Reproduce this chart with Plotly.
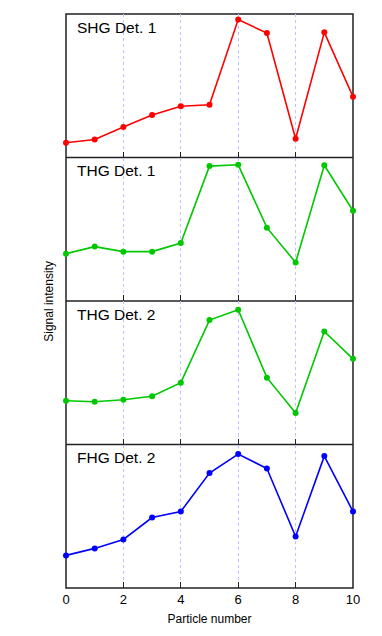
import plotly.graph_objects as go
from plotly.subplots import make_subplots

# particle index on x, normalised signal per detector channel
particles = [0, 1, 2, 3, 4, 5, 6, 7, 8, 9, 10]
shg_det1 = [0.103, 0.126, 0.212, 0.296, 0.357, 0.368, 0.961, 0.867, 0.131, 0.872, 0.424]
thg_det1 = [0.330, 0.379, 0.344, 0.344, 0.404, 0.940, 0.949, 0.511, 0.269, 0.946, 0.629]
thg_det2 = [0.305, 0.298, 0.312, 0.336, 0.431, 0.867, 0.939, 0.466, 0.219, 0.788, 0.597]
fhg_det2 = [0.227, 0.276, 0.338, 0.491, 0.533, 0.801, 0.933, 0.833, 0.359, 0.919, 0.533]

panels = [
    ("SHG Det. 1", shg_det1, "#ff0000"),
    ("THG Det. 1", thg_det1, "#00c800"),
    ("THG Det. 2", thg_det2, "#00c800"),
    ("FHG Det. 2", fhg_det2, "#0000ff"),
]

fig = make_subplots(rows=4, cols=1, shared_xaxes=True, vertical_spacing=0)

for i, (label, vals, col) in enumerate(panels):
    r = i + 1
    fig.add_trace(go.Scatter(x=particles, y=vals, mode="lines+markers",
                             line=dict(color=col, width=1.6),
                             marker=dict(color=col, size=6),
                             showlegend=False, cliponaxis=False), row=r, col=1)
    sfx = "" if r == 1 else str(r)
    fig.add_annotation(text=label, xref=f"x{sfx} domain", yref=f"y{sfx} domain",
                       x=0.033, y=0.98, xanchor="left", yanchor="top", showarrow=False,
                       font=dict(size=15.5, color="black"))

fig.update_xaxes(range=[0, 10], tickvals=[0, 2, 4, 6, 8, 10], showgrid=True,
                 gridcolor="#c0c0ff", griddash="dot", gridwidth=1,
                 showline=False, ticks="inside", ticklen=6, tickwidth=1.2, tickcolor="#222",
                 zeroline=False, tickfont=dict(size=13, color="black"))
fig.update_xaxes(title=dict(text="Particle number", font=dict(size=12, color="black"), standoff=8),
                 ticklabelstandoff=2, row=4, col=1)
fig.update_yaxes(range=[0, 1], showticklabels=False, showgrid=False, zeroline=False,
                 showline=False, ticks="")

# frame around the stack plus the panel separators
fig.add_shape(type="rect", xref="paper", yref="paper", x0=0, x1=1, y0=0, y1=1,
              line=dict(color="#222", width=1.5), layer="below")
for yb in [0.25, 0.5, 0.75]:
    fig.add_shape(type="line", xref="paper", yref="paper", x0=0, x1=1, y0=yb, y1=yb,
                  line=dict(color="#222", width=1.5), layer="below")

fig.add_annotation(text="Signal intensity", xref="paper", yref="paper", x=-0.06, y=0.5,
                   textangle=-90, showarrow=False, xanchor="center", yanchor="middle",
                   font=dict(size=12, color="black"))

fig.update_layout(width=374, height=628, margin=dict(l=58, r=29, t=6, b=48),
                  paper_bgcolor="white", plot_bgcolor="white",
                  font=dict(family="Liberation Sans, Arial, sans-serif"))

fig.write_html("out.html")
